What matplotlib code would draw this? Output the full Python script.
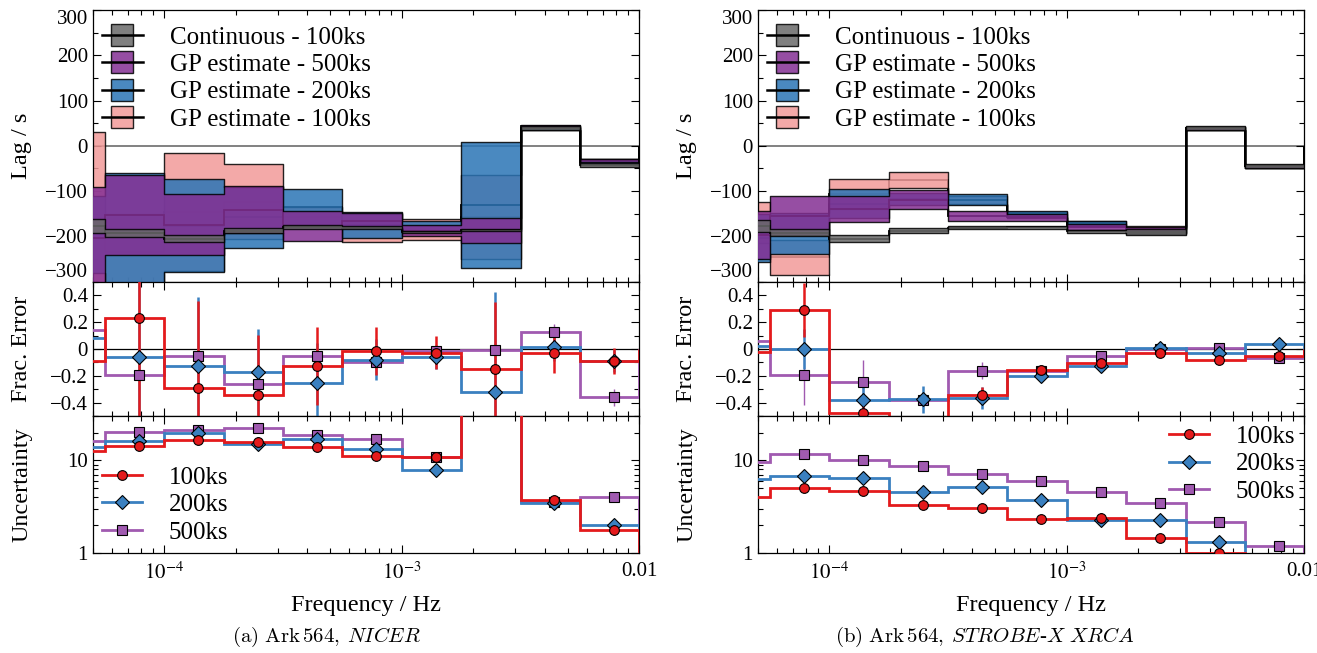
import numpy as np
import matplotlib
matplotlib.use("Agg")
import matplotlib.pyplot as plt
from matplotlib.lines import Line2D
from matplotlib.legend_handler import HandlerTuple
from matplotlib.ticker import MultipleLocator, FuncFormatter, LogLocator, NullFormatter, FixedLocator

plt.rcParams['font.family'] = ['Liberation Serif', 'DejaVu Serif']
plt.rcParams['mathtext.fontset'] = 'stix'
plt.rcParams['axes.linewidth'] = 0.9

# ---------------- data ----------------
bin_edges_log = [-4.5, -4.25, -4.0, -3.75, -3.5, -3.25, -3.0, -2.75, -2.5, -2.25, -2.0]

lag_labels = ["Continuous - 100ks", "GP estimate - 500ks", "GP estimate - 200ks", "GP estimate - 100ks"]
exp_labels = ["100ks", "200ks", "500ks"]
lag_ticks = [-300, -200, -100, 0, 100, 200, 300]

# NICER lag bands (lower / upper), seconds
nicer_cont_lo  = [-192, -202, -213, -193, -184, -184, -193, -189, 35, -46]
nicer_cont_hi  = [-162, -183, -197, -182, -175, -177, -187, -183, 44, -38]
nicer_gp500_lo = [-315, -241, -241, -193, -210, -181, -199, -214, 40, -35]
nicer_gp500_hi = [-90, -65, -107, -89, -144, -149, -175, -159, 46, -28]
nicer_gp200_lo = [-280, -315, -279, -225, -176, -203, -188, -270, 36, -42]
nicer_gp200_hi = [-110, -60, -74, -90, -95, -145, -167, 9, 44, -30]
nicer_gp100_lo = [-350, -320, -276, -206, -180, -212, -208, -250, 35, -40]
nicer_gp100_hi = [30, -150, -15, -40, -134, -150, -162, -65, 42, -30]

# STROBE-X lag bands
strobe_cont_lo  = [-191, -199, -213, -193, -184, -184, -193, -196, 34, -50]
strobe_cont_hi  = [-164, -184, -197, -182, -177, -176, -185, -184, 43, -41]
strobe_gp500_lo = [-249, -197, -168, -139, -166, -165, -186, -192, 36, -48]
strobe_gp500_hi = [-143, -111, -110, -98, -143, -150, -173, -180, 42, -42]
strobe_gp200_lo = [-256, -238, -159, -130, -131, -157, -176, -195, 35, -49]
strobe_gp200_hi = [-150, -148, -96, -104, -107, -143, -165, -181, 42, -42]
strobe_gp100_lo = [-215, -285, -140, -92, -128, -160, -178, -192, 35, -48]
strobe_gp100_hi = [-123, -207, -74, -58, -110, -146, -166, -178, 41, -43]

# Fractional error
nicer_frac_100 = [-0.086, 0.227, -0.291, -0.343, -0.126, -0.015, -0.027, -0.151, -0.032, -0.091]
nicer_frac_200 = [0.084, -0.062, -0.126, -0.170, -0.252, -0.079, -0.060, -0.316, 0.012, -0.090]
nicer_frac_500 = [0.140, -0.193, -0.052, -0.262, -0.052, -0.094, -0.012, -0.010, 0.123, -0.360]
nicer_ferr_100 = [0.30, 0.75, 0.65, 0.45, 0.29, 0.18, 0.12, 0.50, 0.15, 0.095]
nicer_ferr_200 = [0.30, 0.60, 0.51, 0.32, 0.30, 0.15, 0.09, 0.74, 0.10, 0.08]
nicer_ferr_500 = [0.10, 0.12, 0.10, 0.08, 0.06, 0.05, 0.04, 0.06, 0.06, 0.065]

strobe_frac_100 = [-0.020, 0.289, -0.477, -0.620, -0.341, -0.156, -0.101, -0.027, -0.081, -0.049]
strobe_frac_200 = [0.022, -0.002, -0.378, -0.373, -0.365, -0.200, -0.126, 0.010, -0.032, 0.035]
strobe_frac_500 = [0.062, -0.193, -0.242, -0.378, -0.160, -0.160, -0.052, 0.000, 0.010, -0.064]
strobe_ferr_100 = [0.05, 0.20, 0.08, 0.10, 0.06, 0.04, 0.03, 0.03, 0.03, 0.03]
strobe_ferr_200 = [0.03, 0.15, 0.10, 0.10, 0.08, 0.03, 0.03, 0.02, 0.02, 0.02]
strobe_ferr_500 = [0.03, 0.22, 0.16, 0.05, 0.06, 0.03, 0.03, 0.02, 0.02, 0.02]

# Uncertainty
nicer_unc_100 = [12.5, 14.2, 16.8, 15.8, 14.0, 11.05, 11.0, 60.0, 3.74, 1.76]
nicer_unc_200 = [14.0, 16.4, 19.8, 14.9, 17.2, 13.3, 7.9, 80.0, 3.44, 2.0]
nicer_unc_500 = [16.4, 20.2, 21.5, 22.5, 18.9, 17.1, 10.8, 50.0, 3.5, 4.06]

strobe_unc_100 = [4.0, 5.05, 4.64, 3.3, 3.08, 2.32, 2.4, 1.43, 0.99, 0.7]
strobe_unc_200 = [6.27, 6.8, 6.43, 4.53, 5.09, 3.74, 2.26, 2.26, 1.32, 0.8]
strobe_unc_500 = [9.5, 11.8, 10.0, 8.75, 7.1, 5.91, 4.49, 3.44, 2.17, 1.19]

# ---------------- styles ----------------
band_colors = ['#6a6a6a', '#842f93', '#2a74b5', '#f29a99']   # cont, 500, 200, 100
line_colors = {'100': '#e41a1c', '200': '#3a80c0', '500': '#a05ab0'}
markers = {'100': 'o', '200': 'D', '500': 's'}

edges = 10.0 ** np.array(bin_edges_log)
left = edges[:-1]
right = edges[1:]
centers = 0.5 * (left + right)

W, H = 1317, 653
fig = plt.figure(figsize=(W / 100, H / 100), dpi=100)
col_x = [92.8 / W, 757.8 / W]
col_w = 546.5 / W
rows = [(1 - 281.7 / H, 271.7 / H), (1 - 416.3 / H, 134.6 / H), (1 - 552.7 / H, 136.4 / H)]

TICK_FS = 15
LAB_FS = 17.5
LEG_FS = 18


def style_axis(ax):
    ax.tick_params(which='both', direction='in', top=True, right=True, labelsize=TICK_FS, width=0.8)
    ax.tick_params(which='major', length=6)
    ax.tick_params(which='minor', length=3.5)
    ax.set_xscale('log')
    ax.set_xlim(5e-5, 1e-2)
    ax.xaxis.set_minor_formatter(NullFormatter())


def xfmt(v, p):
    m = {1e-4: r'$10^{-4}$', 1e-3: r'$10^{-3}$', 1e-2: '0.01'}
    for k, s in m.items():
        if abs(v - k) / k < 1e-6:
            return s
    return ''


def fracfmt(v, p):
    if abs(v) < 1e-9:
        return '0'
    return f"{v:.1f}".replace('-', '\u2212')


def draw_column(ci, bands, fracs, ferrs, uncs, unc_loc):
    x0 = col_x[ci]
    ax1 = fig.add_axes([x0, rows[0][0], col_w, rows[0][1]])
    ax2 = fig.add_axes([x0, rows[1][0], col_w, rows[1][1]])
    ax3 = fig.add_axes([x0, rows[2][0], col_w, rows[2][1]])
    for ax in (ax1, ax2, ax3):
        style_axis(ax)

    # ---- lag panel ----
    ax1.axhline(0, color='#777777', lw=1.3, zorder=1)
    order = [3, 2, 1, 0]  # draw pink, blue, purple, gray
    for k, idx in enumerate(order):
        lo, hi = np.array(bands[idx][0], float), np.array(bands[idx][1], float)
        mid = 0.5 * (lo + hi)
        z = 2 + k
        ax1.stairs(mid, edges, color='k', lw=1.3, zorder=z)
        ax1.fill_between(edges, np.append(lo, lo[-1]), np.append(hi, hi[-1]), step='post',
                         facecolor=band_colors[idx], alpha=0.85, edgecolor='k', linewidth=1.0,
                         zorder=z + 0.5)
    ax1.set_ylim(-300, 300)
    ax1.yaxis.set_major_locator(FixedLocator(lag_ticks))
    ax1.yaxis.set_minor_locator(MultipleLocator(50))
    ax1.tick_params(labelbottom=False)
    ax1.set_ylabel('Lag / s', fontsize=LAB_FS)
    handles = []
    for idx in range(4):
        sq = Line2D([], [], ls='none', marker='s', ms=16.5, mfc=band_colors[idx], mec='k', mew=1.0, alpha=0.85)
        ln = Line2D([], [], color='k', lw=1.8)
        handles.append((sq, ln))
    ax1.legend(handles, lag_labels, handler_map={tuple: HandlerTuple(ndivide=1, pad=0)},
               loc='upper left', bbox_to_anchor=(0.0, 1 - 7 / 271.7), frameon=False,
               fontsize=LEG_FS, handlelength=1.64, labelspacing=0.2, handletextpad=1.08,
               borderaxespad=0.0, borderpad=0.36)

    # ---- frac error panel ----
    ax2.axhline(0, color='k', lw=0.9, zorder=1)
    for key in ['500', '200', '100']:
        v = np.array(fracs[key])
        e = np.array(ferrs[key])
        c = line_colors[key]
        ax2.stairs(v, edges, color=c, lw=2.0, zorder=3)
        ax2.errorbar(centers, v, yerr=e, fmt='none', ecolor=c,
                     elinewidth=1.0 if key == '500' else 1.8, zorder=3.5)
        ax2.plot(centers, v, ls='none', marker=markers[key], ms=7 if key != '200' else 7.5,
                 mfc=c, mec='k', mew=0.8, zorder=4)
    ax2.set_ylim(-0.5, 0.5)
    ax2.yaxis.set_major_locator(MultipleLocator(0.2))
    ax2.yaxis.set_minor_locator(MultipleLocator(0.1))
    ax2.yaxis.set_major_formatter(FuncFormatter(fracfmt))
    ax2.tick_params(labelbottom=False)
    ax2.set_ylabel('Frac. Error', fontsize=LAB_FS)

    # ---- uncertainty panel ----
    lh = []
    for key in ['500', '200', '100']:
        v = np.array(uncs[key])
        c = line_colors[key]
        ax3.stairs(v, edges, color=c, lw=2.0, zorder=3)
        ax3.plot(centers, v, ls='none', marker=markers[key], ms=7 if key != '200' else 7.5,
                 mfc=c, mec='k', mew=0.8, zorder=4)
    for key in ['100', '200', '500']:
        lh.append(Line2D([], [], color=line_colors[key], lw=2.0, marker=markers[key],
                         ms=7 if key != '200' else 7.5, mfc=line_colors[key], mec='k', mew=0.8))
    ax3.set_yscale('log')
    ax3.set_ylim(1, 30)
    ax3.yaxis.set_major_locator(LogLocator(base=10, numticks=10))
    ax3.yaxis.set_minor_locator(LogLocator(base=10, subs=np.arange(2, 10), numticks=20))
    ax3.yaxis.set_major_formatter(FuncFormatter(lambda v, p: f"{v:g}"))
    ax3.yaxis.set_minor_formatter(NullFormatter())
    ax3.xaxis.set_major_formatter(FuncFormatter(xfmt))
    ax3.set_ylabel('Uncertainty', fontsize=LAB_FS)
    ax3.legend(lh, exp_labels, loc=unc_loc, frameon=False, fontsize=LEG_FS, handlelength=1.6,
               labelspacing=0.2, handletextpad=1.08, borderaxespad=0.0, borderpad=0.36)
    ax3.tick_params(axis='x', pad=7)

    for ax in (ax1, ax2, ax3):
        ax.yaxis.set_label_coords(-0.111, 0.5)

    xc = x0 + col_w / 2
    fig.text(xc, 1 - 605 / H, 'Frequency / Hz', ha='center', va='center', fontsize=LAB_FS)
    return ax1, ax2, ax3


nicer_bands = [(nicer_cont_lo, nicer_cont_hi), (nicer_gp500_lo, nicer_gp500_hi),
               (nicer_gp200_lo, nicer_gp200_hi), (nicer_gp100_lo, nicer_gp100_hi)]
strobe_bands = [(strobe_cont_lo, strobe_cont_hi), (strobe_gp500_lo, strobe_gp500_hi),
                (strobe_gp200_lo, strobe_gp200_hi), (strobe_gp100_lo, strobe_gp100_hi)]

axes_a = draw_column(0, nicer_bands,
                     {'100': nicer_frac_100, '200': nicer_frac_200, '500': nicer_frac_500},
                     {'100': nicer_ferr_100, '200': nicer_ferr_200, '500': nicer_ferr_500},
                     {'100': nicer_unc_100, '200': nicer_unc_200, '500': nicer_unc_500},
                     'lower left')
axes_b = draw_column(1, strobe_bands,
                     {'100': strobe_frac_100, '200': strobe_frac_200, '500': strobe_frac_500},
                     {'100': strobe_ferr_100, '200': strobe_ferr_200, '500': strobe_ferr_500},
                     {'100': strobe_unc_100, '200': strobe_unc_200, '500': strobe_unc_500},
                     'upper right')

fig.text(327 / W, 1 - 637 / H, r'$\mathrm{(a)\ Ark\,564,}\:\mathit{NICER}$',
         ha='center', va='center', fontsize=15, math_fontfamily='cm')
fig.text(985 / W, 1 - 637 / H, r'$\mathrm{(b)\ Ark\,564,}\:\mathit{STROBE}$-$\mathit{X\ XRCA}$',
         ha='center', va='center', fontsize=15, math_fontfamily='cm')

# end labels of the lag axis sit inside the axis range, as in the reference
fig.canvas.draw()
for axs in (axes_a, axes_b):
    ticks = axs[0].yaxis.get_major_ticks()
    ticks[0].label1.set_verticalalignment('bottom')
    ticks[-1].label1.set_verticalalignment('top')

fig.savefig('out.png', dpi=100)
